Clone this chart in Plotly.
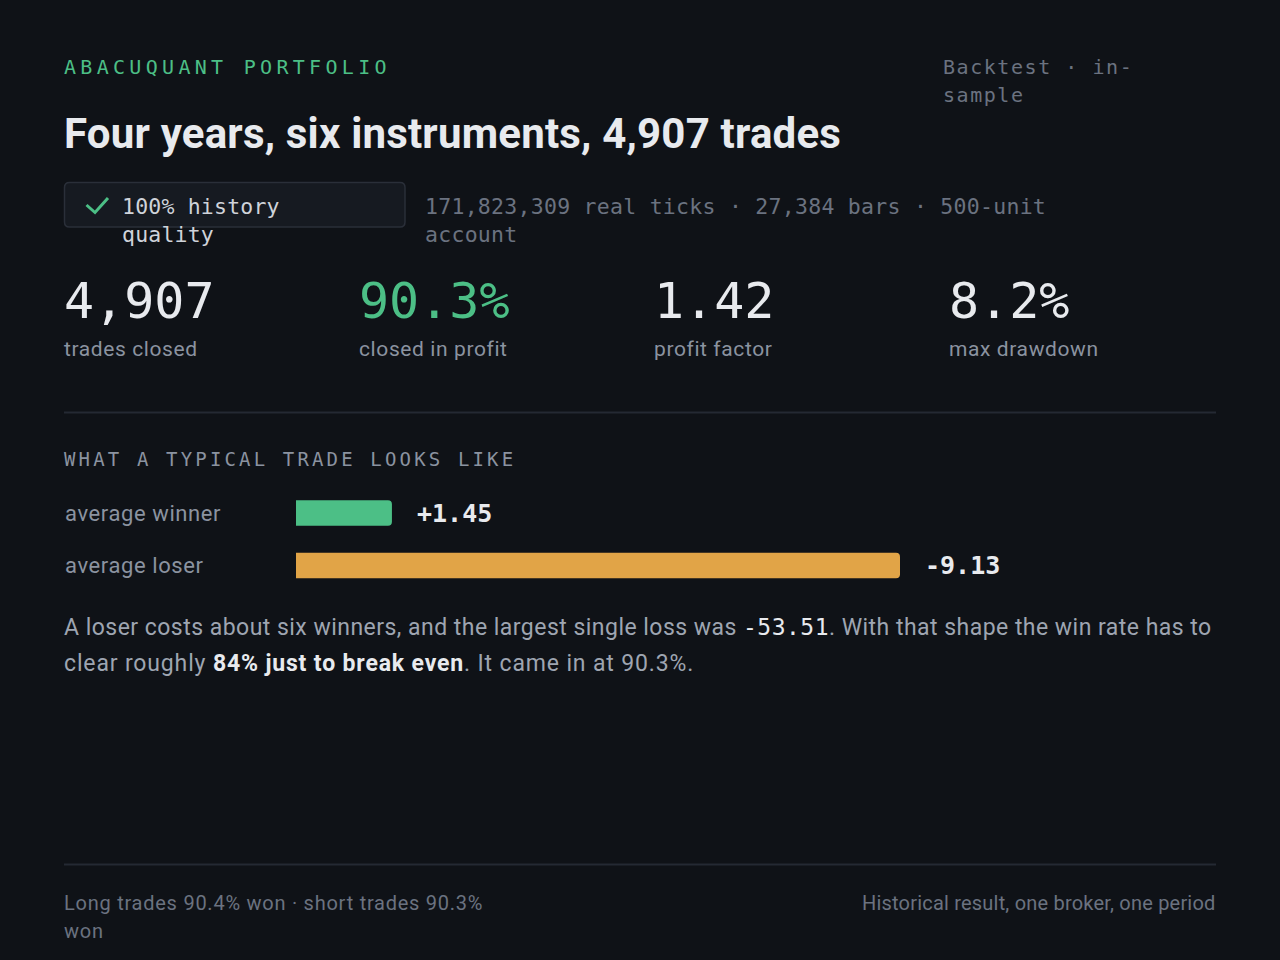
import plotly.graph_objects as go

# ---------------- data ----------------
eyebrow = "ABACUQUANT PORTFOLIO"
title = "Four years, six instruments, 4,907 trades"
scope_note_lines = ["Backtest · in-", "sample"]
quality_badge_lines = ["100% history", "quality"]
data_note_lines = ["171,823,309 real ticks · 27,384 bars · 500-unit", "account"]

kpi_values = ["4,907", "90.3%", "1.42", "8.2%"]
kpi_labels = ["trades closed", "closed in profit", "profit factor", "max drawdown"]

section_title = "WHAT A TYPICAL TRADE LOOKS LIKE"
trade_categories = ["average winner", "average loser"]
trade_values = [1.45, -9.13]

largest_loss = -53.51
breakeven_rate = "84%"
achieved_rate = "90.3%"

footer_left_lines = ["Long trades 90.4% won · short trades 90.3%", "won"]
footer_right = "Historical result, one broker, one period"

# ---------------- style ----------------
W, H = 1280, 960
BG = "#0f1217"
WHITE = "#e8eaee"
GREEN = "#4cbf86"
ORANGE = "#e1a447"
GRAY = "#8b93a0"
PARA = "#9ea5b1"
DIM = "#6b7280"
DIV = "#242933"
BOX_FILL = "#161a21"
BOX_LINE = "#2a2f39"
SANS = "Roboto"
MONO = "DejaVu Sans Mono"
kpi_colors = [WHITE, GREEN, WHITE, WHITE]


def px(x):
    return x / W


def py(y):
    return 1 - y / H


fig = go.Figure()

annotations = []


def spaced(t, ls):
    if not ls:
        return t
    return f'<span style="letter-spacing:{ls}px">{t}</span>'


def txt(x, y, text, size, color, family=SANS, xanchor="left", weight=None, ls=0):
    font = dict(size=size, color=color, family=family)
    if weight:
        font["weight"] = weight
    annotations.append(dict(
        x=px(x), y=py(y), xref="paper", yref="paper", text=spaced(text, ls),
        showarrow=False, xanchor=xanchor, yanchor="middle", align="left",
        font=font, borderpad=0, borderwidth=0,
    ))


# header
txt(64, 66.5, eyebrow, 20, GREEN, MONO, ls=4.3)
txt(64, 133, title, 42, WHITE, SANS, weight=700, ls=0.2)
for i, line in enumerate(scope_note_lines):
    txt(943, 66.7 + 28 * i, line, 20, DIM, MONO, ls=1.55)

# badge
for i, line in enumerate(quality_badge_lines):
    txt(122, 206.3 + 28 * i, line, 21.5, "#cfd3da", MONO, ls=0.2)
for i, line in enumerate(data_note_lines):
    txt(425, 206.3 + 28 * i, line, 21.5, DIM, MONO, ls=0.27)

# KPIs
kpi_x = [64, 359, 654, 949]
for x, v, lab, c in zip(kpi_x, kpi_values, kpi_labels, kpi_colors):
    txt(x, 300.5, v, 50, c, MONO)
    txt(x, 349, lab, 21, GRAY, SANS, ls=0.6)

# section heading
txt(64, 459, section_title, 19, GRAY, MONO, ls=3.15)

# bar chart
mags = [abs(v) for v in trade_values]
fig.add_trace(go.Bar(
    x=mags, y=trade_categories, orientation="h", width=0.49,
    marker=dict(color=[GREEN if v > 0 else ORANGE for v in trade_values], line=dict(width=0)),
    hoverinfo="skip",
))
for cat, v, m in zip(trade_categories, trade_values, mags):
    annotations.append(dict(
        x=m, y=cat, xref="x", yref="y", text=f"{v:+.2f}", showarrow=False,
        xanchor="left", yanchor="middle", xshift=24, borderpad=0,
        font=dict(size=25, color=WHITE, family=MONO, weight=600),
    ))
    annotations.append(dict(
        x=px(63.5), y=cat, xref="paper", yref="y", text=spaced(cat, 0.6), showarrow=False,
        xanchor="left", yanchor="middle", borderpad=0,
        font=dict(size=22, color=GRAY, family=SANS),
    ))

# paragraph
mono_span = f'<span style="font-family:{MONO};fill:{WHITE}">{largest_loss:.2f}</span>'
line1 = ("A loser costs about six winners, and the largest single loss was "
         + mono_span + ". With that shape the win rate has to")
line2 = (f'clear roughly <span style="fill:{WHITE}"><b>{breakeven_rate} just to break even</b></span>'
         f". It came in at {achieved_rate}.")
txt(64, 627, line1, 23, PARA, SANS, ls=0.47)
txt(64, 663.5, line2, 23, PARA, SANS, ls=0.85)

# footer
for i, line in enumerate(footer_left_lines):
    txt(64, 903 + 28 * i, line, 20, DIM, SANS, ls=0.75)
txt(1216, 903, footer_right, 20, DIM, SANS, xanchor="right", ls=0.2)


# shapes
def rounded_rect(x0, y0, x1, y1, r):
    rx, ry = r / W, r / H
    X0, X1 = px(x0), px(x1)
    Y0, Y1 = py(y0), py(y1)  # Y0 top (larger), Y1 bottom
    return (f"M {X0+rx},{Y0} L {X1-rx},{Y0} Q {X1},{Y0} {X1},{Y0-ry} "
            f"L {X1},{Y1+ry} Q {X1},{Y1} {X1-rx},{Y1} L {X0+rx},{Y1} "
            f"Q {X0},{Y1} {X0},{Y1+ry} L {X0},{Y0-ry} Q {X0},{Y0} {X0+rx},{Y0} Z")


shapes = [
    dict(type="line", xref="paper", yref="paper", x0=px(64), x1=px(1216),
         y0=py(412.5), y1=py(412.5), line=dict(color=DIV, width=2)),
    dict(type="line", xref="paper", yref="paper", x0=px(64), x1=px(1216),
         y0=py(864.5), y1=py(864.5), line=dict(color=DIV, width=2)),
    dict(type="path", xref="paper", yref="paper",
         path=rounded_rect(64.5, 182.5, 405, 227, 5),
         fillcolor=BOX_FILL, line=dict(color=BOX_LINE, width=1.5), layer="below"),
    dict(type="path", xref="paper", yref="paper",
         path=f"M {px(86.5)},{py(205)} L {px(95)},{py(212.5)} L {px(108)},{py(198)}",
         line=dict(color=GREEN, width=3)),
]

u = 52.5
y_top = 513 - u / 2
y_bot = 565.5 + u / 2
fig.update_layout(
    width=W, height=H, margin=dict(l=0, r=0, t=0, b=0),
    paper_bgcolor=BG, plot_bgcolor=BG, showlegend=False,
    barcornerradius=4,
    xaxis=dict(domain=[px(296), px(900)], range=[0, max(mags)], visible=False, fixedrange=True),
    yaxis=dict(domain=[py(y_bot), py(y_top)], range=[1.5, -0.5], type="category",
               visible=False, fixedrange=True),
    annotations=annotations,
    shapes=shapes,
)

fig.write_html(
    "out.html",
    config={"displayModeBar": False, "staticPlot": True},
    post_script="document.body.style.margin='0';document.body.style.background='#0f1217';",
)
